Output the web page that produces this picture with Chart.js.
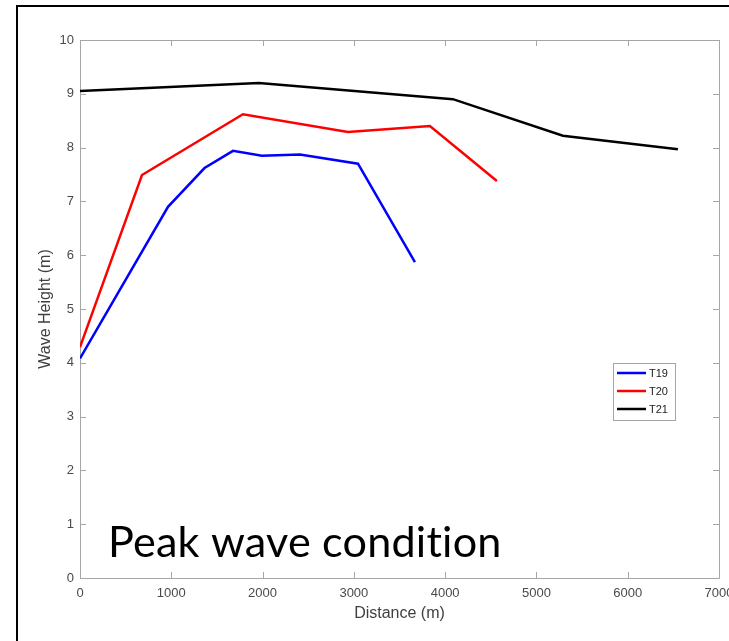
<!DOCTYPE html>
<html>
<head>
<meta charset="utf-8">
<script src="https://cdn.jsdelivr.net/npm/chart.js@4/dist/chart.umd.min.js"></script>
<style>
  html, body { margin: 0; padding: 0; background: #fff; overflow: hidden; width: 729px; height: 641px; }
  #wrap { position: absolute; left: 0; top: 0; width: 760px; height: 641px; }
  #frame { position: absolute; left: 16px; top: 5px; width: 800px; height: 700px; border: 2px solid #000; box-sizing: border-box; pointer-events: none; }
  canvas { position: absolute; left: 0; top: 0; }
</style>
</head>
<body>
<div id="wrap">
  <canvas id="c" width="760" height="641"></canvas>
  <div id="frame"></div>
</div>
<script>
// ---- data ----
const seriesNames = ['T19', 'T20', 'T21'];
const seriesColors = ['#0000ff', '#ff0000', '#000000'];

const t19Distance = [0, 964, 1364, 1676, 1993, 2409, 3045, 3669];
const t19Height   = [4.08, 6.90, 7.62, 7.94, 7.85, 7.87, 7.70, 5.87];

const t20Distance = [0, 679, 1785, 2935, 3833, 4567];
const t20Height   = [4.29, 7.49, 8.62, 8.29, 8.40, 7.38];

const t21Distance = [0, 1960, 4085, 5290, 6550];
const t21Height   = [9.05, 9.20, 8.90, 8.22, 7.97];

const xTickValues = [0, 1000, 2000, 3000, 4000, 5000, 6000, 7000];
const yTickValues = [0, 1, 2, 3, 4, 5, 6, 7, 8, 9, 10];

const xAxisTitle = 'Distance (m)';
const yAxisTitle = 'Wave Height (m)';
const annotationText = 'Peak wave condition';

// ---- build datasets ----
function toPoints(xs, ys) { return xs.map((x, i) => ({ x: x, y: ys[i] })); }
const seriesData = [
  toPoints(t19Distance, t19Height),
  toPoints(t20Distance, t20Height),
  toPoints(t21Distance, t21Height)
];

const matlabPlugin = {
  id: 'matlabBox',
  beforeDatasetsDraw(chart) {
    const ctx = chart.ctx;
    const a = chart.chartArea;
    const xs = chart.scales.x, ys = chart.scales.y;
    ctx.save();
    ctx.strokeStyle = '#a6a6a6';
    ctx.lineWidth = 1;
    ctx.beginPath();
    ctx.rect(Math.round(a.left) + 0.5, Math.round(a.top) + 0.5,
             Math.round(a.right - a.left), Math.round(a.bottom - a.top));
    ctx.stroke();
    const len = 6;
    ctx.beginPath();
    xTickValues.forEach(v => {
      const px = Math.round(xs.getPixelForValue(v)) + 0.5;
      ctx.moveTo(px, a.bottom); ctx.lineTo(px, a.bottom - len);
      ctx.moveTo(px, a.top); ctx.lineTo(px, a.top + len);
    });
    yTickValues.forEach(v => {
      const py = Math.round(ys.getPixelForValue(v)) + 0.5;
      ctx.moveTo(a.left, py); ctx.lineTo(a.left + len, py);
      ctx.moveTo(a.right, py); ctx.lineTo(a.right - len, py);
    });
    ctx.stroke();
    ctx.restore();
  },
  afterDraw(chart) {
    const ctx = chart.ctx;
    ctx.save();
    // legend
    const lx = 613, ly = 363, lw = 62, lh = 57;
    ctx.fillStyle = '#fff';
    ctx.fillRect(lx, ly, lw, lh);
    ctx.strokeStyle = '#a6a6a6';
    ctx.lineWidth = 1;
    ctx.strokeRect(lx + 0.5, ly + 0.5, lw, lh);
    ctx.font = '11px "Liberation Sans", Arial, sans-serif';
    ctx.textBaseline = 'middle';
    ctx.textAlign = 'left';
    chart.data.datasets.forEach((ds, i) => {
      const y = ly + 10 + i * 18;
      ctx.strokeStyle = ds.borderColor;
      ctx.lineWidth = 2.5;
      ctx.beginPath();
      ctx.moveTo(lx + 4, y); ctx.lineTo(lx + 33, y);
      ctx.stroke();
      ctx.fillStyle = '#222';
      ctx.fillText(ds.label, lx + 36, y + 0.5);
    });
    // annotation text (ligatures disabled through a tiny letter spacing)
    if ('letterSpacing' in ctx) ctx.letterSpacing = '0.2px';
    const targetW = 394;
    let size = 40;
    ctx.font = size + 'px Lato, "Open Sans", sans-serif';
    const w = ctx.measureText(annotationText).width;
    size = size * targetW / w;
    ctx.font = size.toFixed(2) + 'px Lato, "Open Sans", sans-serif';
    ctx.fillStyle = '#000';
    ctx.textBaseline = 'alphabetic';
    ctx.fillText(annotationText, 108, 557);
    ctx.restore();
  }
};

new Chart(document.getElementById('c'), {
  type: 'line',
  data: {
    datasets: seriesData.map((pts, i) => ({
      label: seriesNames[i],
      data: pts,
      borderColor: seriesColors[i],
      backgroundColor: seriesColors[i],
      borderWidth: 2.5,
      pointRadius: 0,
      tension: 0,
      fill: false
    }))
  },
  options: {
    responsive: false,
    animation: false,
    events: [],
    layout: { padding: { left: 0, top: 40, right: 41, bottom: 0 } },
    plugins: { legend: { display: false }, tooltip: { enabled: false } },
    scales: {
      x: {
        type: 'linear',
        min: 0, max: 7000,
        afterBuildTicks(s) { s.ticks = xTickValues.map(v => ({ value: v })); },
        afterFit(s) { s.height = 63; },
        grid: { display: false, drawTicks: false },
        border: { display: false },
        ticks: {
          font: { family: '"Liberation Sans", Arial, sans-serif', size: 13 },
          color: '#4a4a4a',
          padding: 8,
          maxRotation: 0,
          autoSkip: false,
          callback: v => String(v)
        },
        title: {
          display: true,
          text: xAxisTitle,
          font: { family: '"Liberation Sans", Arial, sans-serif', size: 16 },
          color: '#404040',
          padding: { top: 2, bottom: 18 }
        }
      },
      y: {
        type: 'linear',
        min: 0, max: 10,
        afterBuildTicks(s) { s.ticks = yTickValues.map(v => ({ value: v })); },
        afterFit(s) { s.width = 80; },
        grid: { display: false, drawTicks: false },
        border: { display: false },
        ticks: {
          font: { family: '"Liberation Sans", Arial, sans-serif', size: 13 },
          color: '#4a4a4a',
          padding: 6,
          autoSkip: false,
          callback: v => String(v)
        },
        title: {
          display: true,
          text: yAxisTitle,
          font: { family: '"Liberation Sans", Arial, sans-serif', size: 16 },
          color: '#404040',
          padding: { top: 36, bottom: 0 }
        }
      }
    }
  },
  plugins: [matlabPlugin]
});
</script>
</body>
</html>
